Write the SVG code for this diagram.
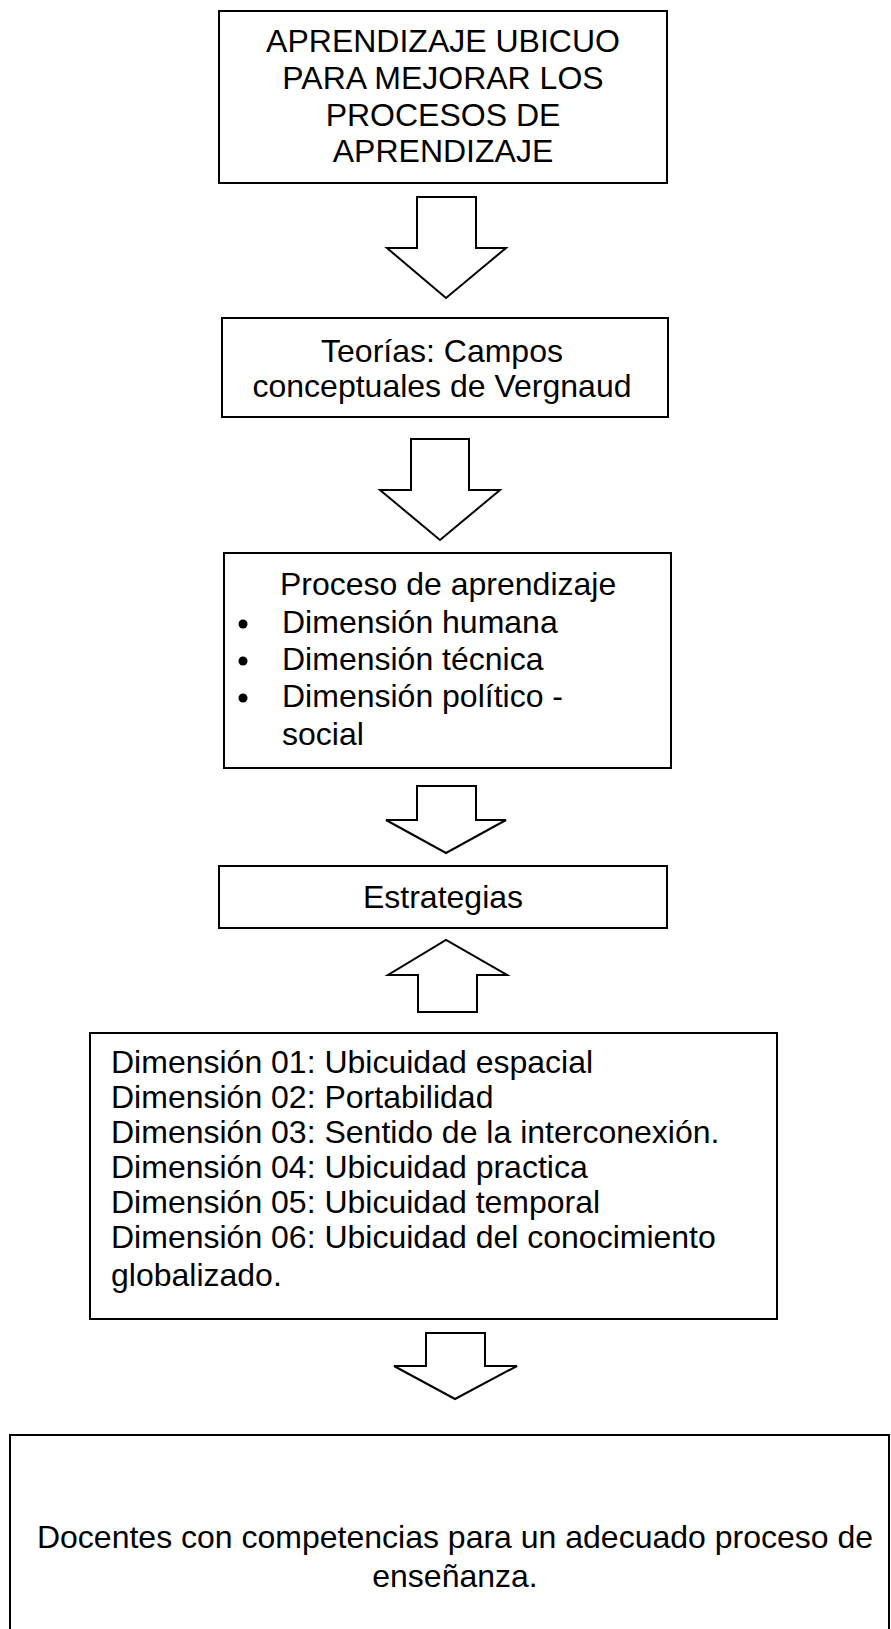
<svg xmlns="http://www.w3.org/2000/svg" width="891" height="1629" viewBox="0 0 891 1629">
<style>
.box{fill:#fff;stroke:#000;stroke-width:2}
.arr{fill:#fff;stroke:#000;stroke-width:2;stroke-linejoin:miter}
text{font-family:"Liberation Sans",Arial,sans-serif;font-size:32px;fill:#000}
.c{text-anchor:middle}
</style>
<rect width="891" height="1629" fill="#fff"/>
<g id="connectors">
<polygon class="arr" points="417,197 476,197 476,248 506,248 446,298 387,248 417,248"/>
<polygon class="arr" points="411,439 469,439 469,490 500,490 440,540 380,490 411,490"/>
<polygon class="arr" points="417,786 476,786 476,820 506,820 446,853 386,820 417,820"/>
<polygon class="arr" points="418,1012 477,1012 477,975 507,975 446,940 388,975 418,975"/>
<polygon class="arr" points="426,1333 485,1333 485,1366 517,1366 455,1399 394,1366 426,1366"/>
</g>
<g id="n1">
<rect class="box" x="219" y="11" width="448" height="172"/>
<text class="c" x="443" y="52">APRENDIZAJE UBICUO</text>
<text class="c" x="443" y="89">PARA MEJORAR LOS</text>
<text class="c" x="443" y="125.5">PROCESOS DE</text>
<text class="c" x="443" y="162">APRENDIZAJE</text>
</g>
<g id="n2">
<rect class="box" x="222" y="318" width="446" height="99"/>
<text class="c" x="442" y="362">Teorías: Campos</text>
<text class="c" x="442" y="397">conceptuales de Vergnaud</text>
</g>
<g id="n3">
<rect class="box" x="224" y="553" width="447" height="215"/>
<text x="280" y="595">Proceso de aprendizaje</text>
<circle cx="243" cy="624" r="4.5"/>
<text x="282" y="633">Dimensión humana</text>
<circle cx="243" cy="661" r="4.5"/>
<text x="282" y="670">Dimensión técnica</text>
<circle cx="243" cy="698" r="4.5"/>
<text x="282" y="707">Dimensión político -</text>
<text x="282" y="745">social</text>
</g>
<g id="n4">
<rect class="box" x="219" y="866" width="448" height="62"/>
<text class="c" x="443" y="908">Estrategias</text>
</g>
<g id="n5">
<rect class="box" x="90" y="1033" width="687" height="286"/>
<text x="111" y="1073">Dimensión 01: Ubicuidad espacial</text>
<text x="111" y="1108">Dimensión 02: Portabilidad</text>
<text x="111" y="1143">Dimensión 03: Sentido de la interconexión.</text>
<text x="111" y="1178">Dimensión 04: Ubicuidad practica</text>
<text x="111" y="1213">Dimensión 05: Ubicuidad temporal</text>
<text x="111" y="1248">Dimensión 06: Ubicuidad del conocimiento</text>
<text x="111" y="1286">globalizado.</text>
</g>
<g id="n6">
<rect class="box" x="10" y="1435" width="879" height="220"/>
<text class="c" x="455" y="1548">Docentes con competencias para un adecuado proceso de</text>
<text class="c" x="455" y="1587">enseñanza.</text>
</g>
</svg>
